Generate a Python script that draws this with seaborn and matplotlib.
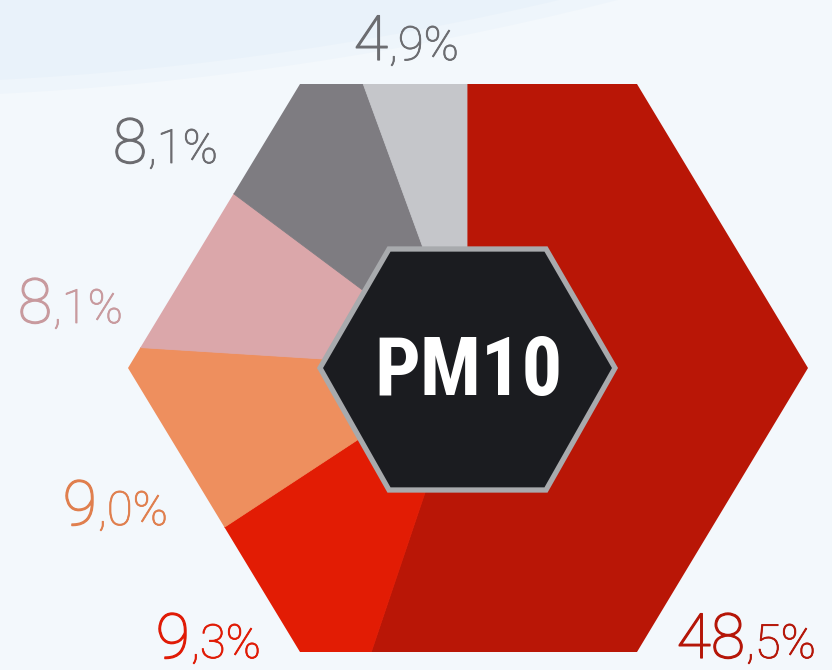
import numpy as np
import matplotlib
matplotlib.use('Agg')
import matplotlib.pyplot as plt
import matplotlib.patheffects as pe
from matplotlib.patches import Polygon, Circle
import seaborn as sns

# -----------------------------------------------------------------------------
# Data
# -----------------------------------------------------------------------------
shares = [48.5, 9.3, 9.0, 8.1, 8.1, 4.9]
slice_colors = ['#b91606', '#e21c04', '#ee8f5e', '#dba7aa', '#7e7c81', '#c5c6ca']
label_colors = ['#b51608', '#e01b06', '#e07f4e', '#c89a9e', '#6c6c70', '#6c6d71']
center_label = 'PM10'

# label anchor (split point between integer part and ",x%"), pixel coords y-down
label_pos = [(745, 658), (190, 658), (97, 525), (52, 323), (147, 163), (388, 60)]

W, H = 832, 670
BG = '#f3f8fc'


def py(y):
    return H - y


sns.set_theme(style='white', rc={'figure.facecolor': BG, 'axes.facecolor': BG})
plt.rcParams['font.family'] = ['Roboto', 'DejaVu Sans']

fig = plt.figure(figsize=(W / 100, H / 100), dpi=100)
ax = fig.add_axes([0, 0, 1, 1])

# faint bluish band in the top-left corner (soft edge: two layers)
ax.add_patch(Circle((-162, py(-3052)), 3150, color='#eef5fb', lw=0, zorder=0))
ax.add_patch(Circle((-162, py(-3052)), 3136, color='#e9f2fa', lw=0, zorder=0))

# outer hexagon used as clip shape
outer = [(300, 84), (637, 84), (808, 368), (637, 652), (300, 652), (128, 368)]
hex_out = Polygon([(x, py(y)) for x, y in outer], closed=True,
                  facecolor='none', edgecolor='none', transform=ax.transData)
ax.add_patch(hex_out)

cx, cy = 467, py(368)
wedges, _ = ax.pie(shares, colors=slice_colors, startangle=90, counterclock=False,
                   center=(cx, cy), radius=700, normalize=True,
                   wedgeprops=dict(linewidth=0.6))
for w, c in zip(wedges, slice_colors):
    w.set_edgecolor(c)
    w.set_clip_on(True)
    w.set_clip_path(hex_out)
    w.set_zorder(2)

# inner hexagon badge
inner = [(320, 368), (389, 249), (546, 249), (615, 368), (546, 490), (389, 490)]
ax.add_patch(Polygon([(x, py(y)) for x, y in inner], closed=True,
                     facecolor='#1b1c20', edgecolor='#a8aaad', lw=3.8, zorder=3))
ax.text(469, py(395), center_label, ha='center', va='baseline', color='white',
        fontsize=58, fontweight='bold',
        family=['Liberation Sans Narrow', 'Roboto Condensed', 'Roboto', 'DejaVu Sans'],
        zorder=4)

# percentage labels: big integer part + smaller ",x%"
for v, (lx, ly), col in zip(shares, label_pos, label_colors):
    txt = f'{v:.1f}'.replace('.', ',')
    whole, frac = txt.split(',')
    ax.text(lx, py(ly), whole, ha='right', va='baseline', color=col,
            fontsize=45, fontweight='light', zorder=5,
            path_effects=[pe.Stroke(linewidth=0.9, foreground=col), pe.Normal()])
    ax.text(lx + 1, py(ly), ',' + frac + '%', ha='left', va='baseline', color=col,
            fontsize=34, fontweight='light', zorder=5,
            path_effects=[pe.Stroke(linewidth=0.6, foreground=col), pe.Normal()])

ax.set_xlim(0, W)
ax.set_ylim(0, H)
ax.set_aspect('auto')
ax.axis('off')

fig.savefig('out.png', dpi=100, facecolor=BG)
plt.close(fig)
